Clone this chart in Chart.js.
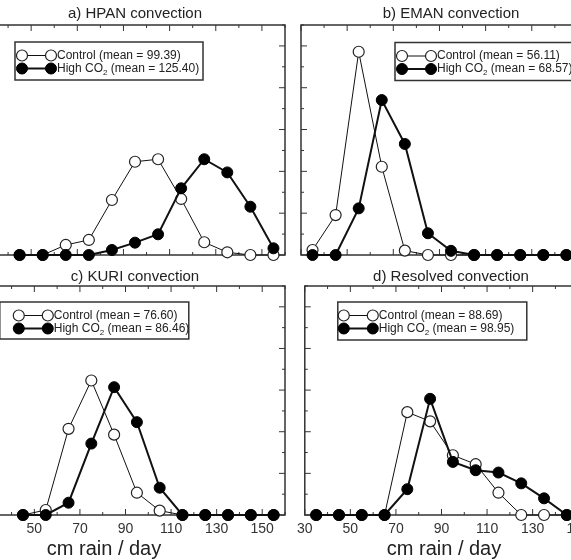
<!DOCTYPE html>
<html>
<head>
<meta charset="utf-8">
<script src="https://cdn.jsdelivr.net/npm/chart.js@4.4.0/dist/chart.umd.min.js"></script>
<style>
  html, body { margin: 0; padding: 0; background: #fff; overflow: hidden; }
  body { width: 571px; height: 560px; position: relative; font-family: "Liberation Sans", Arial, sans-serif; }
  .panel { position: absolute; }
  .xtitle { position: absolute; top: 538px; font-size: 20px; line-height: 20px; color: #222;
            white-space: nowrap; transform: translateX(-50%); }
</style>
</head>
<body>
<div class="panel" style="left:-25px; top:0; width:320px; height:262px"><canvas id="hpan"></canvas></div>
<div class="panel" style="left:291px; top:0; width:320px; height:262px"><canvas id="eman"></canvas></div>
<div class="panel" style="left:-25px; top:260px; width:320px; height:300px"><canvas id="kuri"></canvas></div>
<div class="panel" style="left:291px; top:260px; width:320px; height:300px"><canvas id="resolved"></canvas></div>
<div class="xtitle" style="left:104px">cm rain / day</div>
<div class="xtitle" style="left:444px">cm rain / day</div>

<script>
// chart of rain-rate distributions, four convection schemes

const FONT = '"Liberation Sans", Arial, sans-serif';
const INK = "#111";
const FRAME = "#333";

// bin centres (cm rain / day)
const BINS = [35, 45, 55, 65, 75, 85, 95, 105, 115, 125, 135, 145, 155];

// x axis: labelled ticks + all tick marks
const X_LABELS = [30, 50, 70, 90, 110, 130, 150];
const X_TICKS  = [30, 40, 50, 60, 70, 80, 90, 100, 110, 120, 130, 140, 150, 160];
// y axis (frequency, arbitrary units, labels not shown)
const Y_TICKS  = [0, 1, 2, 3, 4, 5, 6, 7, 8, 9, 10, 11];

const PANEL_TITLES = ["a) HPAN convection", "b) EMAN convection", "c) KURI convection", "d) Resolved convection"];
const CONTROL_MEAN = ["99.39", "56.11", "76.60", "88.69"];
const HIGH_MEAN    = ["125.40", "68.57", "86.46", "98.95"];

// values (null = bin not shown in that panel)
const hpanControl = [null, 0, 0, 0.48, 0.72, 2.63, 4.46, 4.58, 2.68, 0.61, 0.13, 0, 0];
const hpanHigh    = [null, 0, 0, 0, 0, 0.24, 0.59, 0.99, 3.19, 4.58, 3.95, 2.31, 0.32];

const emanControl = [0.24, 1.91, 9.72, 4.22, 0.21, 0, 0, 0, 0, 0, 0, 0, 0];
const emanHigh    = [0, 0, 2.23, 7.41, 5.31, 1.04, 0.2, 0, 0, 0, 0, 0, 0];

const kuriControl = [null, 0, 0.24, 4.14, 6.46, 3.86, 1.07, 0.21, 0, 0, 0, 0, 0];
const kuriHigh    = [null, 0, 0, 0.59, 3.43, 6.14, 4.46, 1.31, 0, 0, 0, 0, 0];

const resControl  = [0, 0, 0, 0, 4.94, 4.50, 2.87, 2.44, 1.07, 0, 0, 0, 0];
const resHigh     = [0, 0, 0, 0, 1.24, 5.58, 2.55, 2.15, 2.04, 1.52, 0.80, 0, 0];

const pairs = (vals) => BINS.map((b, i) => ({ x: b, y: vals[i] }));

// frame + inward tick marks on all four sides
const framePlugin = {
    id: "frame",
    beforeDatasetsDraw(chart) {
        const ctx = chart.ctx, a = chart.chartArea;
        const xs = chart.scales.x, ys = chart.scales.y;
        ctx.save();
        ctx.strokeStyle = FRAME;
        ctx.lineWidth = 1;
        ctx.beginPath();
        X_TICKS.forEach(v => {
            const x = xs.getPixelForValue(v);
            const len = X_LABELS.includes(v) ? 6 : 3;
            ctx.moveTo(x, a.top);    ctx.lineTo(x, a.top + len);
            ctx.moveTo(x, a.bottom); ctx.lineTo(x, a.bottom - len);
        });
        Y_TICKS.forEach(v => {
            const y = ys.getPixelForValue(v);
            const len = v % 2 === 0 ? 6 : 3;
            ctx.moveTo(a.left, y);  ctx.lineTo(a.left + len, y);
            ctx.moveTo(a.right, y); ctx.lineTo(a.right - len, y);
        });
        ctx.stroke();
        ctx.lineWidth = 1.5;
        ctx.strokeRect(a.left, a.top, a.width, a.height);
        ctx.restore();
    }
};

// boxed legend: line sample with a marker at each end
const boxLegend = {
    id: "boxLegend",
    afterDraw(chart, args, o) {
        const ctx = chart.ctx, a = chart.chartArea;
        const bx = a.left + o.x, by = a.top + o.y;
        ctx.save();
        ctx.fillStyle = "#fff";
        ctx.fillRect(bx, by, o.w, o.h);
        ctx.strokeStyle = FRAME;
        ctx.lineWidth = 1.5;
        ctx.strokeRect(bx, by, o.w, o.h);

        const rows = [13.5, 26.5];
        chart.data.datasets.forEach((ds, i) => {
            const y = by + rows[i];
            const x1 = bx + o.mx, x2 = x1 + 29;
            ctx.strokeStyle = ds.borderColor;
            ctx.lineWidth = ds.borderWidth;
            ctx.beginPath(); ctx.moveTo(x1, y); ctx.lineTo(x2, y); ctx.stroke();
            [x1, x2].forEach(x => {
                ctx.beginPath();
                ctx.arc(x, y, ds.pointRadius, 0, Math.PI * 2);
                ctx.fillStyle = ds.pointBackgroundColor;
                ctx.fill();
                ctx.lineWidth = ds.pointBorderWidth;
                ctx.strokeStyle = ds.pointBorderColor;
                ctx.stroke();
            });
            // text, with ₂ drawn as a lowered small 2
            let tx = x1 + 35;
            ctx.fillStyle = "#222";
            ctx.textBaseline = "middle";
            ds.label.split(/(₂)/).forEach(part => {
                if (!part) return;
                if (part === "₂") {
                    ctx.font = "8px " + FONT;
                    ctx.fillText("2", tx, y + 4);
                    tx += ctx.measureText("2").width;
                } else {
                    ctx.font = "12px " + FONT;
                    ctx.fillText(part, tx, y);
                    tx += ctx.measureText(part).width;
                }
            });
        });
        ctx.restore();
    }
};

function makePanel(id, idx, control, high, legendPos, bottomRow) {
    new Chart(document.getElementById(id), {
        type: "line",
        data: {
            datasets: [
                {
                    label: "Control (mean = " + CONTROL_MEAN[idx] + ")",
                    data: pairs(control),
                    borderColor: INK, borderWidth: 1,
                    pointRadius: 5.5, pointBorderWidth: 1.2,
                    pointBackgroundColor: "#fff", pointBorderColor: "#222",
                    order: 1, clip: false, tension: 0
                },
                {
                    label: "High CO₂ (mean = " + HIGH_MEAN[idx] + ")",
                    data: pairs(high),
                    borderColor: INK, borderWidth: 2,
                    pointRadius: 5.5, pointBorderWidth: 1,
                    pointBackgroundColor: "#000", pointBorderColor: "#000",
                    order: 0, clip: false, tension: 0
                }
            ]
        },
        options: {
            responsive: true,
            maintainAspectRatio: false,
            animation: false,
            events: [],
            layout: { padding: { left: 10, right: 10, top: 0, bottom: 0 } },
            plugins: {
                legend: { display: false },
                tooltip: { enabled: false },
                title: {
                    display: true,
                    text: PANEL_TITLES[idx],
                    color: "#222",
                    font: { size: 15, family: FONT, weight: "normal" },
                    padding: bottomRow ? { top: 8, bottom: 0 } : { top: 5, bottom: 2 }
                },
                boxLegend: legendPos
            },
            scales: {
                x: {
                    type: "linear", min: 30, max: 160,
                    grid: { display: false, drawTicks: false },
                    border: { display: false },
                    ticks: {
                        display: bottomRow,
                        stepSize: 10, autoSkip: false, maxRotation: 0,
                        padding: 6, color: "#333",
                        font: { size: 14, family: FONT },
                        callback: v => X_LABELS.includes(v) ? String(v) : ""
                    },
                    afterFit: s => { s.height = bottomRow ? 45 : 7; }
                },
                y: { display: false, min: 0, max: 11 }
            }
        },
        plugins: [framePlugin, boxLegend]
    });
}

makePanel("hpan",     0, hpanControl, hpanHigh, { x: 30, y: 17,   w: 188, h: 38, mx: 7 },  false);
makePanel("eman",     1, emanControl, emanHigh, { x: 94, y: 17.5, w: 188, h: 38, mx: 7 },  false);
makePanel("kuri",     2, kuriControl, kuriHigh, { x: 11, y: 16,   w: 189, h: 37, mx: 19 }, true);
makePanel("resolved", 3, resControl,  resHigh,  { x: 33, y: 16,   w: 189, h: 38, mx: 6 },  true);
</script>
</body>
</html>
